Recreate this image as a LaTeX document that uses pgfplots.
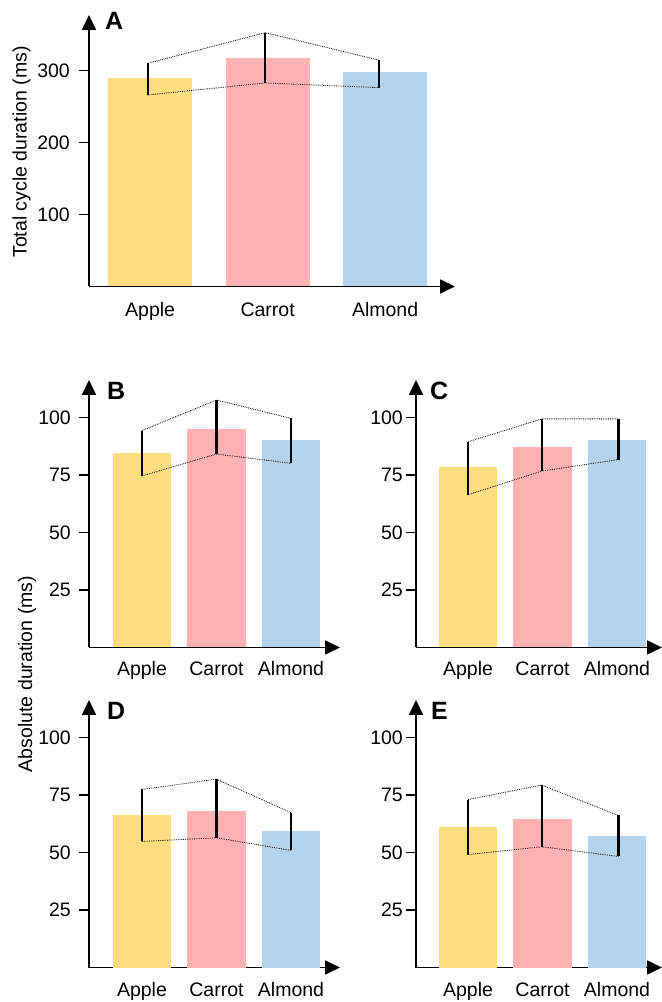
\documentclass[border=0pt]{standalone}
\usepackage{fontspec}
\setmainfont{Liberation Sans}
\usepackage{pgfplots}
\pgfplotsset{compat=1.18}
\usetikzlibrary{arrows.meta}
\definecolor{cY}{RGB}{253,221,128}
\definecolor{cP}{RGB}{253,177,178}
\definecolor{cB}{RGB}{179,212,236}
\newcommand\fs{\fontsize{19.5bp}{22bp}\selectfont}
\newcommand\fb{\fontsize{25bp}{28bp}\selectfont\bfseries}
\tikzset{cat/.style={anchor=base, inner sep=0pt, font=\fs, yshift=#1}}
\pgfplotsset{
  panel/.style={
    scale only axis,
    anchor=south west,
    axis lines=left,
    axis line style={line width=1.7bp, -{Triangle[length=15bp,width=14bp]}},
    ymin=0,
    xtick=\empty,
    tick align=outside,
    major tick length=10bp,
    every tick/.style={draw=black, line width=1.6bp},
    yticklabel style={anchor=east, inner sep=0pt, font=\fs},
    /pgf/number format/assume math mode=true,
    clip=false,
  },
  bar/.style={ybar, bar shift=0pt, draw=none, fill=#1},
  eb/.style={line width=2.5bp, black},
  dl/.style={densely dotted, line width=0.8bp, black},
}
\begin{document}
\begin{tikzpicture}[x=1bp,y=1bp]
\path[use as bounding box] (0,0) rectangle (662,1002);

% Panel A
\begin{axis}[panel, at={(89bp,715.5bp)}, width=366bp, height=271.5bp,
  xmin=-0.52, xmax=2.595, ymax=377, ytick={100,200,300},
  yticklabel style={xshift=-9bp}]
\addplot[bar=cY, bar width=0.715] coordinates {(0,289.6)};
\addplot[bar=cP, bar width=0.715] coordinates {(1,317.0)};
\addplot[bar=cB, bar width=0.715] coordinates {(2,297.5)};
\addplot[dl] coordinates {(-0.017,310.0) (0.98,352.5) (1.95,314.2)};
\addplot[dl] coordinates {(-0.017,266.0) (0.98,282.6) (1.95,276.1)};
\addplot[eb] coordinates {(-0.017,266.0) (-0.017,310.0)};
\addplot[eb] coordinates {(0.98,282.6) (0.98,352.5)};
\addplot[eb] coordinates {(1.95,276.1) (1.95,314.2)};
\node[cat=-30bp] at (axis cs:0,0) {Apple};
\node[cat=-30bp] at (axis cs:1,0) {Carrot};
\node[cat=-30bp] at (axis cs:2,0) {Almond};
\end{axis}

% Panel B
\begin{axis}[panel, at={(89bp,354.5bp)}, width=251bp, height=267.5bp,
  xmin=-0.711, xmax=2.658, ymax=116.3, ytick={25,50,75,100},
  yticklabel style={xshift=-8bp}]
\addplot[bar=cY, bar width=0.78] coordinates {(0,84.6)};
\addplot[bar=cP, bar width=0.78] coordinates {(1,95.0)};
\addplot[bar=cB, bar width=0.78] coordinates {(2,90.2)};
\addplot[dl] coordinates {(0,94.3) (1,107.6) (2,99.6)};
\addplot[dl] coordinates {(0,74.6) (1,84.1) (2,80.1)};
\addplot[eb] coordinates {(0,74.6) (0,94.3)};
\addplot[eb] coordinates {(1,84.1) (1,107.6)};
\addplot[eb] coordinates {(2,80.1) (2,99.6)};
\node[cat=-28.5bp] at (axis cs:0,0) {Apple};
\node[cat=-28.5bp] at (axis cs:1,0) {Carrot};
\node[cat=-28.5bp] at (axis cs:2,0) {Almond};
\end{axis}

% Panel C
\begin{axis}[panel, at={(416bp,354.5bp)}, width=246bp, height=267.5bp,
  xmin=-0.698, xmax=2.604, ymax=116.3, ytick={25,50,75,100},
  yticklabel style={xshift=-3bp}]
\addplot[bar=cY, bar width=0.78] coordinates {(0,78.3)};
\addplot[bar=cP, bar width=0.78] coordinates {(1,87.0)};
\addplot[bar=cB, bar width=0.78] coordinates {(2,90.4)};
\addplot[dl] coordinates {(0,89.4) (0.99,99.4) (2.02,99.4)};
\addplot[dl] coordinates {(0,66.4) (0.99,76.7) (2.02,81.7)};
\addplot[eb] coordinates {(0,66.4) (0,89.4)};
\addplot[eb] coordinates {(0.99,76.7) (0.99,99.4)};
\addplot[eb] coordinates {(2.02,81.7) (2.02,99.4)};
\node[cat=-28.5bp] at (axis cs:0,0) {Apple};
\node[cat=-28.5bp] at (axis cs:1,0) {Carrot};
\node[cat=-28.5bp] at (axis cs:2,0) {Almond};
\end{axis}

% Panel D
\begin{axis}[panel, at={(89bp,34.5bp)}, width=251bp, height=267.5bp,
  xmin=-0.711, xmax=2.658, ymax=116.3, ytick={25,50,75,100},
  yticklabel style={xshift=-8bp}]
\addplot[bar=cY, bar width=0.78] coordinates {(0,66.4)};
\addplot[bar=cP, bar width=0.78] coordinates {(1,68.1)};
\addplot[bar=cB, bar width=0.78] coordinates {(2,59.4)};
\addplot[dl] coordinates {(0,77.4) (1,81.9) (2,67.3)};
\addplot[dl] coordinates {(0,54.8) (1,56.4) (2,50.9)};
\addplot[eb] coordinates {(0,54.8) (0,77.4)};
\addplot[eb] coordinates {(1,56.4) (1,81.9)};
\addplot[eb] coordinates {(2,50.9) (2,67.3)};
\node[cat=-28.5bp] at (axis cs:0,0) {Apple};
\node[cat=-28.5bp] at (axis cs:1,0) {Carrot};
\node[cat=-28.5bp] at (axis cs:2,0) {Almond};
\end{axis}

% Panel E
\begin{axis}[panel, at={(416bp,34.5bp)}, width=246bp, height=267.5bp,
  xmin=-0.698, xmax=2.604, ymax=116.3, ytick={25,50,75,100},
  yticklabel style={xshift=-3bp}]
\addplot[bar=cY, bar width=0.78] coordinates {(0,61.2)};
\addplot[bar=cP, bar width=0.78] coordinates {(1,64.7)};
\addplot[bar=cB, bar width=0.78] coordinates {(2,57.3)};
\addplot[dl] coordinates {(0,73.0) (0.99,79.3) (2.02,66.1)};
\addplot[dl] coordinates {(0,49.1) (0.99,52.5) (2.02,48.3)};
\addplot[eb] coordinates {(0,49.1) (0,73.0)};
\addplot[eb] coordinates {(0.99,52.5) (0.99,79.3)};
\addplot[eb] coordinates {(2.02,48.3) (2.02,66.1)};
\node[cat=-28.5bp] at (axis cs:0,0) {Apple};
\node[cat=-28.5bp] at (axis cs:1,0) {Carrot};
\node[cat=-28.5bp] at (axis cs:2,0) {Almond};
\end{axis}

% Panel letters and axis titles
\node[anchor=base west, inner sep=0pt, font=\fb] at (105,972) {A};
\node[anchor=base west, inner sep=0pt, font=\fb] at (107,602) {B};
\node[anchor=base west, inner sep=0pt, font=\fb] at (430,602) {C};
\node[anchor=base west, inner sep=0pt, font=\fb] at (107,282) {D};
\node[anchor=base west, inner sep=0pt, font=\fb] at (431,282) {E};
\node[anchor=base, rotate=90, inner sep=0pt, font=\fs] at (26.7,850) {Total cycle duration (ms)};
\node[anchor=base, rotate=90, inner sep=0pt, font=\fs] at (32,328) {Absolute duration (ms)};
\end{tikzpicture}
\end{document}
